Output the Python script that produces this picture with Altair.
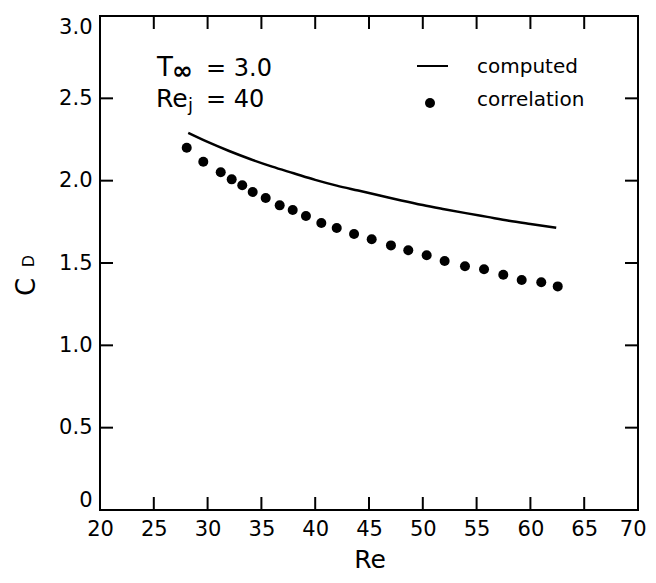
import altair as alt
import pandas as pd

# computed curve
comp_re = [28.2, 30, 32, 34, 36, 38, 40, 42, 44, 46, 48, 50, 52, 54, 56, 58, 60, 62.4]
comp_cd = [2.29, 2.235, 2.18, 2.13, 2.085, 2.045, 2.005, 1.97, 1.94, 1.91, 1.88,
           1.852, 1.827, 1.803, 1.78, 1.757, 1.737, 1.714]

# correlation points
corr_re = [28.06, 29.60, 31.22, 32.24, 33.22, 34.19, 35.40, 36.70, 37.91, 39.14,
           40.57, 42.00, 43.61, 45.25, 47.04, 48.65, 50.36, 52.03, 53.92, 55.69,
           57.48, 59.19, 61.01, 62.54]
corr_cd = [2.200, 2.115, 2.051, 2.008, 1.972, 1.931, 1.895, 1.850, 1.822, 1.785,
           1.743, 1.713, 1.676, 1.644, 1.607, 1.577, 1.547, 1.512, 1.480, 1.462,
           1.429, 1.397, 1.383, 1.358]

x_ticks = [25, 30, 35, 40, 45, 50, 55, 60, 65]
y_ticks = [0.5, 1.0, 1.5, 2.0, 2.5]
x_labels = [20, 25, 30, 35, 40, 45, 50, 55, 60, 65, 70]
y_labels = [0, 0.5, 1.0, 1.5, 2.0, 2.5, 3.0]

W, H = 538, 494
FONT = "DejaVu Sans"

comp = pd.DataFrame({"Re": comp_re, "CD": comp_cd})
corr = pd.DataFrame({"Re": corr_re, "CD": corr_cd})
xt = pd.DataFrame({"Re": x_ticks})
yt = pd.DataFrame({"CD": y_ticks})

xs = alt.Scale(domain=[20, 70], nice=False, zero=False)
ys = alt.Scale(domain=[0, 3.0], nice=False)

xax = alt.Axis(values=x_labels, title=None, domain=False, ticks=False, grid=False,
               labelFont=FONT, labelFontSize=21, labelColor="black", labelPadding=8,
               labelFlush=False, format="d",
               labelAlign={"condition": {"test": "datum.value == 70", "value": "right"},
                           "value": "center"},
               labelOffset={"condition": {"test": "datum.value == 70", "value": 8},
                            "value": 0})
yax = alt.Axis(values=y_labels, title=None, domain=False, ticks=False, grid=False,
               labelFont=FONT, labelFontSize=21, labelColor="black", labelPadding=8,
               labelFlush=True,
               labelExpr="datum.value == 0 ? '0' : format(datum.value, '.1f')")

line = alt.Chart(comp).mark_line(color="black", strokeWidth=2.5, interpolate="monotone").encode(
    x=alt.X("Re:Q", scale=xs, axis=xax),
    y=alt.Y("CD:Q", scale=ys, axis=yax),
)
pts = alt.Chart(corr).mark_circle(color="black", size=100, opacity=1).encode(
    x=alt.X("Re:Q", scale=xs),
    y=alt.Y("CD:Q", scale=ys),
)

tick_style = dict(color="black", strokeWidth=2)
top_t = alt.Chart(xt).mark_rule(**tick_style).encode(
    x=alt.X("Re:Q", scale=xs), y=alt.value(0), y2=alt.value(13))
bot_t = alt.Chart(xt).mark_rule(**tick_style).encode(
    x=alt.X("Re:Q", scale=xs), y=alt.value(H), y2=alt.value(H - 13))
left_t = alt.Chart(yt).mark_rule(**tick_style).encode(
    y=alt.Y("CD:Q", scale=ys), x=alt.value(0), x2=alt.value(13))
right_t = alt.Chart(yt).mark_rule(**tick_style).encode(
    y=alt.Y("CD:Q", scale=ys), x=alt.value(W), x2=alt.value(W - 13))

def txt(s, x, y, size, angle=0, align="left", baseline="alphabetic", weight="normal"):
    kw = dict(text=s, font=FONT, fontSize=size, color="black", align=align,
              baseline=baseline, fontWeight=weight)
    if angle:
        kw["angle"] = angle
    return alt.Chart(pd.DataFrame({"a": [0]})).mark_text(**kw).encode(
        x=alt.value(x), y=alt.value(y))

annots = [
    txt("T", 57, 60, 26),
    txt("∞", 72, 63, 25, weight="bold"),
    txt("= 3.0", 106, 60, 24),
    txt("Re", 56, 91, 25),
    txt("j", 88, 95, 18),
    txt("= 40", 106, 91, 24),
    txt("computed", 377, 57, 20),
    txt("correlation", 377, 90, 20),
    txt("Re", 270, 552, 25, align="center"),
    txt("C", -73, 271, 26, angle=270, align="center", baseline="middle"),
    txt("D", -71, 245, 16, angle=270, align="center", baseline="middle"),
]

leg_line = alt.Chart(pd.DataFrame({"a": [0]})).mark_rule(color="black", strokeWidth=2).encode(
    x=alt.value(317), x2=alt.value(348), y=alt.value(50))
leg_dot = alt.Chart(pd.DataFrame({"a": [0]})).mark_circle(color="black", size=100, opacity=1).encode(
    x=alt.value(330), y=alt.value(87))

chart = alt.layer(line, pts, top_t, bot_t, left_t, right_t, leg_line, leg_dot, *annots).properties(
    width=W, height=H,
    background="white",
    autosize=alt.AutoSizeParams(type="none"),
    padding={"left": 92, "top": 8, "right": 10, "bottom": 65},
).configure_view(stroke="black", strokeWidth=2)

chart.save("out.html", embed_options={"renderer": "svg", "actions": False})
